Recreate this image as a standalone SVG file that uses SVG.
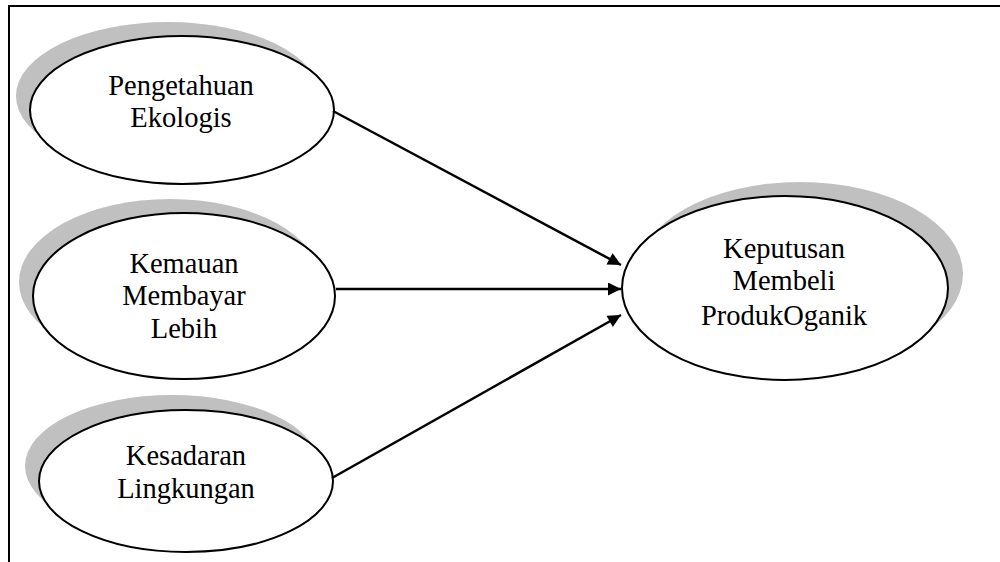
<svg xmlns="http://www.w3.org/2000/svg" width="1000" height="562" viewBox="0 0 1000 562">
<defs>
<style>
.sh{fill:#c0c0c0;stroke:none}
.el{fill:#fff;stroke:#000;stroke-width:2}
.tx{font-family:"Liberation Serif","Times New Roman",serif;font-size:28.5px;fill:#000;text-anchor:middle}
.cn{stroke:#000;stroke-width:2.5;fill:none}
</style>
<marker id="ah" viewBox="0 0 10 10" refX="10" refY="5" markerWidth="6.5" markerHeight="5.2" markerUnits="strokeWidth" orient="auto">
<path d="M0,0 L10,5 L0,10 Z" fill="#000"/>
</marker>
</defs>
<rect width="1000" height="562" fill="#fff"/>
<path d="M9,562 V6 H1000" fill="none" stroke="#000" stroke-width="2"/>
<g id="n1">
<ellipse class="sh" cx="168" cy="96" rx="152" ry="74"/>
<ellipse class="el" cx="182" cy="110" rx="152" ry="74"/>
<text class="tx" x="181" y="95">Pengetahuan</text>
<text class="tx" x="181" y="127">Ekologis</text>
</g>
<g id="n2">
<ellipse class="sh" cx="170" cy="282" rx="151" ry="83"/>
<ellipse class="el" cx="184" cy="296" rx="151" ry="83"/>
<text class="tx" x="184" y="273">Kemauan</text>
<text class="tx" x="184" y="305">Membayar</text>
<text class="tx" x="184" y="338">Lebih</text>
</g>
<g id="n3">
<ellipse class="sh" cx="172" cy="466" rx="147" ry="71"/>
<ellipse class="el" cx="186" cy="481" rx="147" ry="71"/>
<text class="tx" x="186" y="465">Kesadaran</text>
<text class="tx" x="186" y="498">Lingkungan</text>
</g>
<g id="n4">
<ellipse class="sh" cx="800" cy="274" rx="163" ry="92"/>
<ellipse class="el" cx="785" cy="288" rx="163" ry="92"/>
<text class="tx" x="784" y="258">Keputusan</text>
<text class="tx" x="784" y="290">Membeli</text>
<text class="tx" x="784" y="325">ProdukOganik</text>
</g>
<g id="connectors">
<line class="cn" x1="333" y1="111" x2="621" y2="265" marker-end="url(#ah)"/>
<line class="cn" x1="336" y1="289" x2="621" y2="289" marker-end="url(#ah)"/>
<line class="cn" x1="332" y1="478" x2="621" y2="315" marker-end="url(#ah)"/>
</g>
</svg>
